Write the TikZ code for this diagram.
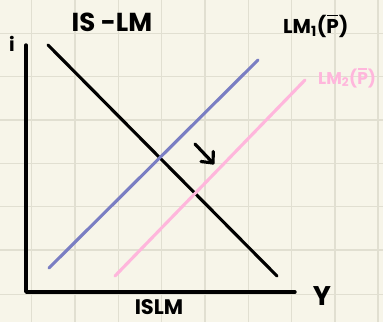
\documentclass[tikz,border=0pt]{standalone}
\usepackage{fontspec}
\setmainfont{Poppins}
\definecolor{paper}{HTML}{F7F5E9}
\definecolor{gridc}{HTML}{E1DFD1}
\definecolor{lmblue}{HTML}{7A7EC3}
\definecolor{lmpink}{HTML}{FFB6DC}
\newcommand{\pbarsym}{{\setbox0\hbox{P}\rlap{\hspace{0.04em}\raisebox{\dimexpr\ht0+0.13em\relax}{\rule{\dimexpr\wd0-0.08em\relax}{0.08em}}}P}}
\tikzset{
  gridline/.style={draw=gridc, line width=1.4pt},
  axisline/.style={draw=black, line width=3.4pt, line join=round, line cap=round},
  curveline/.style={line width=3.1pt, line cap=round},
  lbl/.style={inner sep=0pt, font=\bfseries},
}
\begin{document}
\begin{tikzpicture}[x=1pt,y=-1pt]
\useasboundingbox (0,0) rectangle (383,322);
\fill[paper] (0,0) rectangle (383,322);
\foreach \x in {31.7,75,118.3,161.6,204.9,248.2,291.5,334.8,378.1}
  \draw[gridline] (\x,0) -- (\x,322);
\foreach \y in {33.3,76.7,120,163.3,206.7,250,294.5}
  \draw[gridline] (0,\y) -- (383,\y);
% axes
\coordinate (ytop) at (26,45);
\coordinate (O) at (26,292);
\coordinate (xend) at (295,292);
\draw[axisline] (ytop) -- (O) -- (xend);
% IS curve
\coordinate (is1) at (48,45);
\coordinate (is2) at (277,276);
\draw[curveline, black] (is1) -- (is2);
% LM1
\coordinate (lma1) at (49,268);
\coordinate (lma2) at (258,60);
\draw[curveline, lmblue] (lma1) -- (lma2);
% LM2
\coordinate (lmb1) at (115,276);
\coordinate (lmb2) at (305,80);
\draw[curveline, lmpink] (lmb1) -- (lmb2);
% shift arrow
\coordinate (ar1) at (195,144);
\coordinate (ar2) at (213,163);
\coordinate (arh1) at (201,161.5);
\coordinate (arh2) at (213.3,151.5);
\draw[axisline, line width=3.2pt] (ar1) -- (ar2);
\draw[axisline, line width=3.2pt] (arh1) -- (ar2) -- (arh2);
% labels
\node[lbl, font=\bfseries\fontsize{26}{26}\selectfont] (title) at (112,22) {IS -LM};
\node[lbl, font=\bfseries\fontsize{19}{19}\selectfont] (ilab) at (12,44) {i};
\node[lbl, anchor=base west, font=\bfseries\fontsize{20}{20}\selectfont] (lmonelab) at (283,33) {LM\textsubscript{1}(\pbarsym)};
\node[lbl, anchor=base west, text=lmpink, font=\bfseries\fontsize{17}{17}\selectfont] (lmtwolab) at (318,84) {LM\textsubscript{2}(\pbarsym)};
\node[lbl, font=\bfseries\fontsize{27}{27}\selectfont] (ylab) at (322,296) {Y};
\node[lbl, anchor=base, font=\bfseries\fontsize{21}{21}\selectfont] (islmlab) at (159,314.5) {ISLM};
\end{tikzpicture}
\end{document}
